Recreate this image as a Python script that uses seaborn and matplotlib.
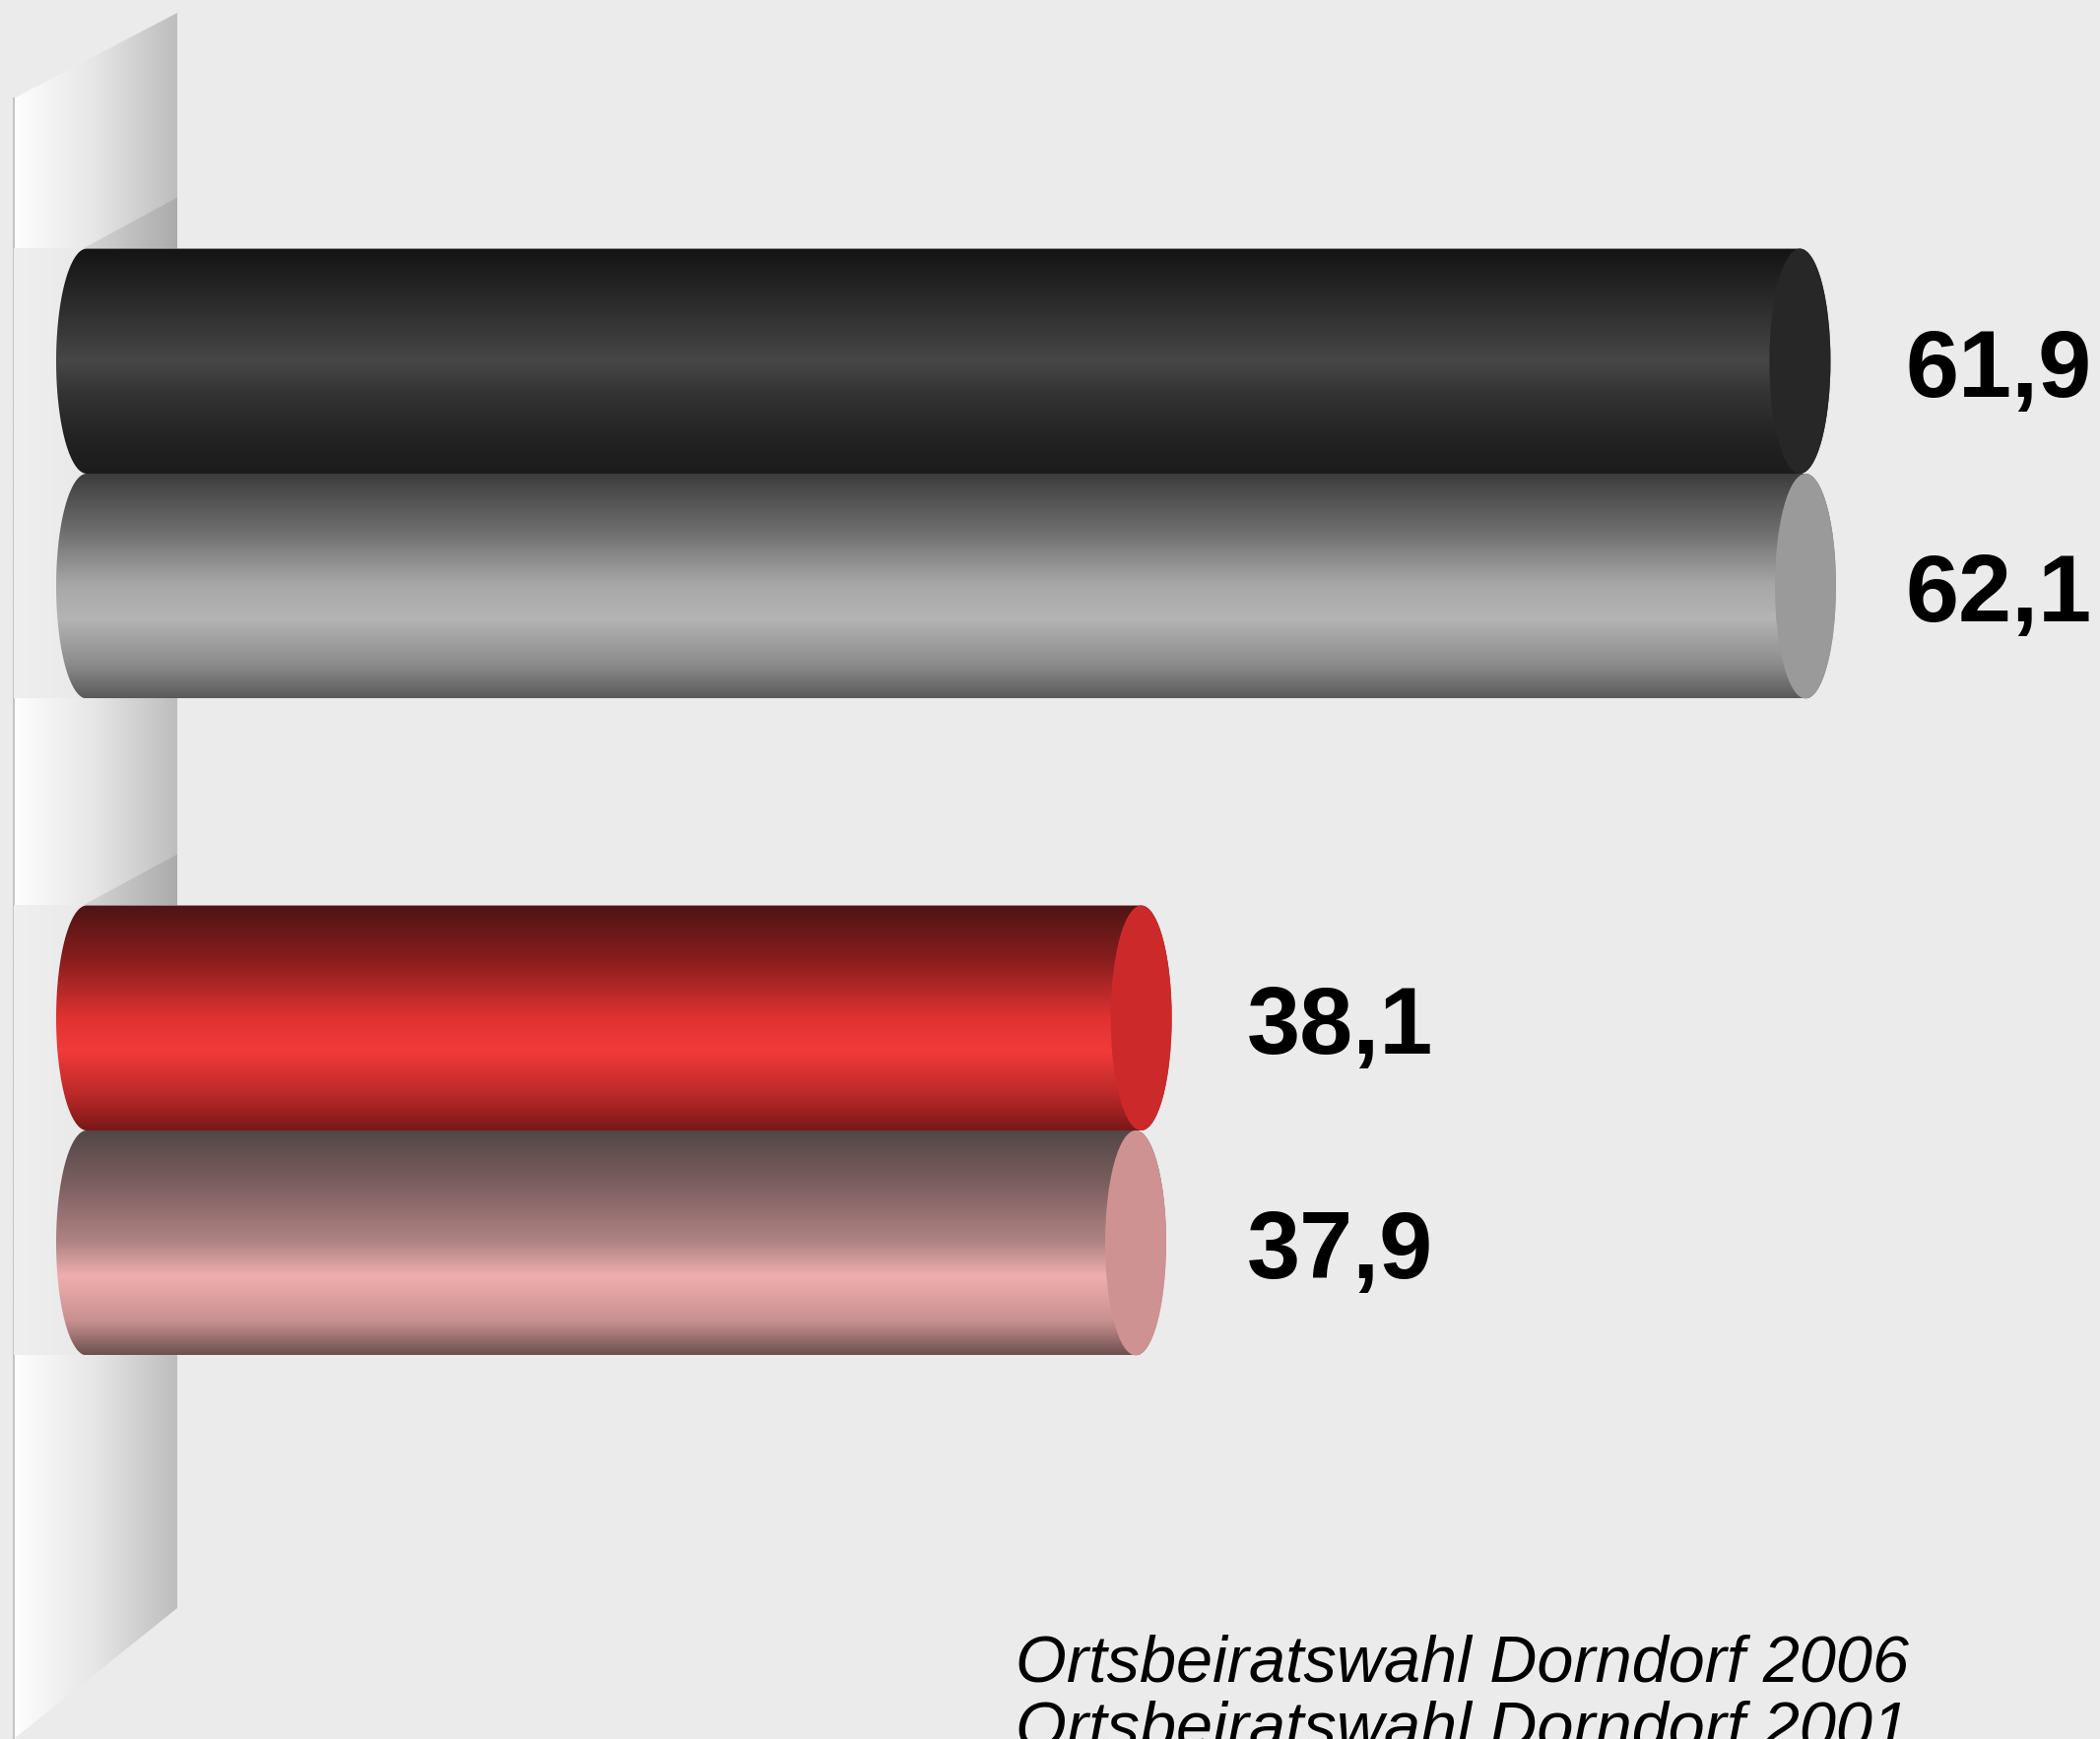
import numpy as np
import pandas as pd
import matplotlib
matplotlib.use("Agg")
import matplotlib.pyplot as plt
import seaborn as sns
from matplotlib.path import Path
from matplotlib.patches import PathPatch, Ellipse, Polygon
from matplotlib.colors import LinearSegmentedColormap

parties = ["CDU", "CDU", "SPD", "SPD"]
years = ["2006", "2001", "2006", "2001"]
values = [61.9, 62.1, 38.1, 37.9]
labels = ["61,9", "62,1", "38,1", "37,9"]
captions = ["Ortsbeiratswahl Dorndorf 2006", "Ortsbeiratswahl Dorndorf 2001"]

df = pd.DataFrame({"Partei": parties, "Wahl": years, "Wert": values})

# cylinder shading, top -> bottom
shades = {
    ("CDU", "2006"): ["#141414", "#2c2c2c", "#474747", "#333333", "#222222", "#1c1c1c"],
    ("CDU", "2001"): ["#3c3c3c", "#6c6c6c", "#a8a8a8", "#b4b4b4", "#8c8c8c", "#5a5a5a"],
    ("SPD", "2006"): ["#4e1414", "#8a1e1e", "#e03232", "#f23a3a", "#b82828", "#7a1818"],
    ("SPD", "2001"): ["#524646", "#7e6060", "#b08484", "#f0aeae", "#c89090", "#6e5050"],
}
stops = [0.0, 0.25, 0.5, 0.65, 0.85, 1.0]
caps = {
    ("CDU", "2006"): "#272727",
    ("CDU", "2001"): "#9a9a9a",
    ("SPD", "2006"): "#cc2a2a",
    ("SPD", "2001"): "#cf9292",
}

W, H = 2132, 1766
bg = "#ebebeb"
fig = plt.figure(figsize=(W / 100, H / 100), dpi=100, facecolor=bg)
ax = fig.add_axes([0, 0, 1, 1])
ax.set_facecolor(bg)

sns.barplot(data=df, x="Wert", y="Partei", hue="Wahl", hue_order=["2006", "2001"],
            orient="h", width=0.685, errorbar=None, legend=False, ax=ax)
bars = [p for p in ax.patches if p.get_width() > 0]

# pixel -> data helpers (zero at x=88px, 28.1 px per unit; categories 667px apart)
xmin, xmax = -88 / 28.1, (W - 88) / 28.1
ytop, ybot = -481 / 667, (H - 481) / 667
px = lambda x: xmin + x / W * (xmax - xmin)
py = lambda y: ytop + y / H * (ybot - ytop)

a = 31 / 28.1  # half width of the end ellipses

# back wall
wall = Polygon([(px(14), py(100)), (px(180), py(13)), (px(180), py(1633)), (px(14), py(1766))],
               closed=True, facecolor="none", edgecolor="none", transform=ax.transData)
ax.add_patch(wall)
wcm = LinearSegmentedColormap.from_list("wall", ["#fefefe", "#e6e6e6", "#bdbdbd"])
wim = ax.imshow(wcm(np.linspace(0, 1, 256))[None, :, :3], extent=(px(14), px(180), py(1766), py(0)),
                aspect="auto", interpolation="bilinear", zorder=1)
wim.set_clip_path(wall)
ax.plot([px(14), px(14)], [py(100), py(1766)], color="#c4c4c4", lw=1.5, zorder=1.5)

recs = list(zip(parties, years, values, labels))


def find(p):
    for r in recs:
        if abs(p.get_width() - r[2]) < 1e-6:
            return r


# labels of a party line up behind its 2006 bar
label_x = {pa: v + 3.8 for pa, yr, v in zip(parties, years, values) if yr == "2006"}

groups = {}
for p in bars:
    p.set_visible(False)
    y0, h = p.get_y(), p.get_height()
    groups.setdefault(find(p)[0], []).append((y0, y0 + h))

# shadow band of each group on the wall
band = LinearSegmentedColormap.from_list("band", ["#efefef", "#e2e2e2"])
for party, spans in groups.items():
    top = min(s[0] for s in spans)
    bot = max(s[1] for s in spans)
    ax.imshow(band(np.linspace(0, 1, 64))[None, :, :3], extent=(px(14), px(180), bot, top),
              aspect="auto", interpolation="bilinear", zorder=2)
    d = py(252) - py(200)
    ax.add_patch(Polygon([(px(84), top), (px(180), top - d), (px(180), top)], closed=True,
                         facecolor="black", alpha=0.09, edgecolor="none", zorder=2.2))

for p in bars:
    party, year, v, lab = find(p)
    x0, x1 = p.get_x(), p.get_x() + p.get_width()
    y0, h = p.get_y(), p.get_height()
    yc = y0 + h / 2
    th = np.linspace(np.pi / 2, 3 * np.pi / 2, 80)
    th2 = np.linspace(-np.pi / 2, np.pi / 2, 80)
    verts = np.concatenate([np.c_[x0 + a * np.cos(th), yc - h / 2 * np.sin(th)],
                            np.c_[x1 + a * np.cos(th2), yc - h / 2 * np.sin(th2)]])
    verts = np.vstack([verts, verts[:1]])
    clip = PathPatch(Path(verts, closed=True), facecolor="none", edgecolor="none",
                     transform=ax.transData)
    ax.add_patch(clip)
    cm = LinearSegmentedColormap.from_list("c", list(zip(stops, shades[(party, year)])))
    im = ax.imshow(cm(np.linspace(0, 1, 256))[:, None, :3], extent=(x0 - a, x1 + a, y0 + h, y0),
                   origin="upper", aspect="auto", interpolation="bilinear", zorder=3)
    im.set_clip_path(clip)
    ax.add_patch(Ellipse((x1, yc), 2 * a, h, facecolor=caps[(party, year)], edgecolor="none", zorder=4))
    capH = 72 / 667
    ax.text(label_x[party], yc + capH / 2, lab, ha="left", va="baseline", fontsize=70,
            fontweight="bold", family=["Liberation Sans", "DejaVu Sans"], color="black", zorder=5)

fig.text(1031 / W, 1 - 1708 / H, captions[0], ha="left", va="baseline", fontsize=48,
         style="italic", family=["Liberation Sans", "DejaVu Sans"], color="black")
fig.text(1031 / W, 1 - 1775 / H, captions[1], ha="left", va="baseline", fontsize=48,
         style="italic", family=["Liberation Sans", "DejaVu Sans"], color="black")

ax.set_xlim(xmin, xmax)
ax.set_ylim(ybot, ytop)
ax.axis("off")

fig.savefig("out.png", dpi=100, facecolor=bg)
